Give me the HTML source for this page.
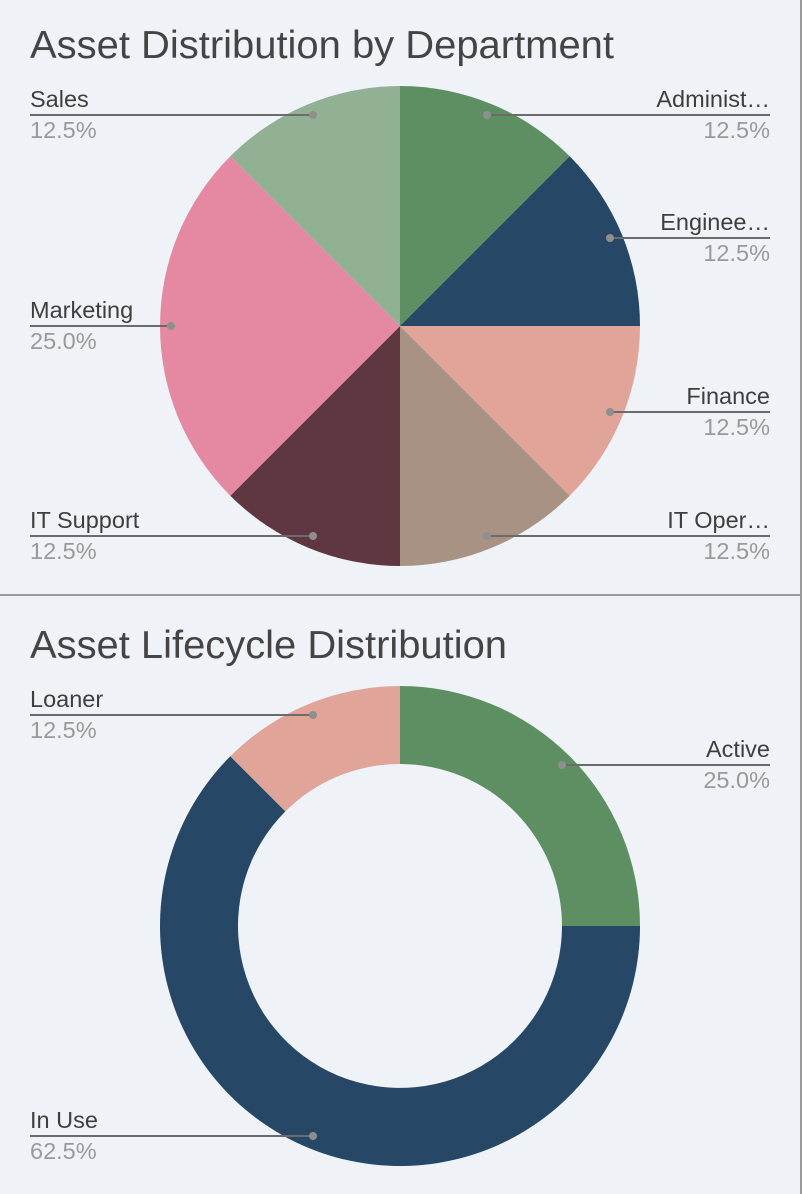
<!DOCTYPE html>
<html><head><meta charset="utf-8"><style>
html,body{margin:0;padding:0;background:#eff3f8;}
svg{display:block;}
text{font-family:"Liberation Sans",Arial,sans-serif;}
.t{font-size:39px;fill:#444;}
.l{font-size:23.5px;fill:#3b403c;}
.p{font-size:23.5px;fill:#999;}
.ln{stroke:#6b6b6b;stroke-width:2;fill:none;}
.d{fill:#8f8f8f;}
</style></head><body>
<svg width="802" height="1194" viewBox="0 0 802 1194" xmlns="http://www.w3.org/2000/svg">
<rect width="802" height="1194" fill="#eff3f8"/>
<rect x="800" y="0" width="2" height="1194" fill="#9a9a9a"/>
<rect x="0" y="594" width="802" height="2" fill="#9a9a9a"/>

<text class="t" x="30" y="58" textLength="584" lengthAdjust="spacingAndGlyphs">Asset Distribution by Department</text>
<g>
<path d="M400 326 L400 86 A240 240 0 0 1 569.7 156.3 Z" fill="#5e8f63"/>
<path d="M400 326 L569.7 156.3 A240 240 0 0 1 640 326 Z" fill="#264766"/>
<path d="M400 326 L640 326 A240 240 0 0 1 569.7 495.7 Z" fill="#e0a498"/>
<path d="M400 326 L569.7 495.7 A240 240 0 0 1 400 566 Z" fill="#a89283"/>
<path d="M400 326 L400 566 A240 240 0 0 1 230.3 495.7 Z" fill="#5e3740"/>
<path d="M400 326 L230.3 495.7 A240 240 0 0 1 230.3 156.3 Z" fill="#e589a2"/>
<path d="M400 326 L230.3 156.3 A240 240 0 0 1 400 86 Z" fill="#92b094"/>
</g>
<g>
<line class="ln" x1="487" y1="115" x2="770" y2="115"/><circle class="d" cx="487" cy="115" r="4"/>
<text class="l" x="770" y="107" text-anchor="end">Administ…</text><text class="p" x="770" y="138" text-anchor="end">12.5%</text>
<line class="ln" x1="610" y1="238" x2="770" y2="238"/><circle class="d" cx="610" cy="238" r="4"/>
<text class="l" x="770" y="230" text-anchor="end">Enginee…</text><text class="p" x="770" y="261" text-anchor="end">12.5%</text>
<line class="ln" x1="610" y1="412" x2="770" y2="412"/><circle class="d" cx="610" cy="412" r="4"/>
<text class="l" x="770" y="404" text-anchor="end">Finance</text><text class="p" x="770" y="435" text-anchor="end">12.5%</text>
<line class="ln" x1="487" y1="536" x2="770" y2="536"/><circle class="d" cx="487" cy="536" r="4"/>
<text class="l" x="770" y="528" text-anchor="end">IT Oper…</text><text class="p" x="770" y="559" text-anchor="end">12.5%</text>
<line class="ln" x1="30" y1="536" x2="313" y2="536"/><circle class="d" cx="313" cy="536" r="4"/>
<text class="l" x="30" y="528">IT Support</text><text class="p" x="30" y="559">12.5%</text>
<line class="ln" x1="30" y1="326" x2="171" y2="326"/><circle class="d" cx="171" cy="326" r="4"/>
<text class="l" x="30" y="318">Marketing</text><text class="p" x="30" y="349">25.0%</text>
<line class="ln" x1="30" y1="115" x2="313" y2="115"/><circle class="d" cx="313" cy="115" r="4"/>
<text class="l" x="30" y="107">Sales</text><text class="p" x="30" y="138">12.5%</text>
</g>

<text class="t" x="30" y="658" textLength="477" lengthAdjust="spacingAndGlyphs">Asset Lifecycle Distribution</text>
<g>
<path d="M400 686 A240 240 0 0 1 640 926 L562 926 A162 162 0 0 0 400 764 Z" fill="#5e8f63"/>
<path d="M640 926 A240 240 0 1 1 230.3 756.3 L285.4 811.4 A162 162 0 1 0 562 926 Z" fill="#264766"/>
<path d="M230.3 756.3 A240 240 0 0 1 400 686 L400 764 A162 162 0 0 0 285.4 811.4 Z" fill="#e0a498"/>
</g>
<g>
<line class="ln" x1="562" y1="765" x2="770" y2="765"/><circle class="d" cx="562" cy="765" r="4"/>
<text class="l" x="770" y="757" text-anchor="end">Active</text><text class="p" x="770" y="788" text-anchor="end">25.0%</text>
<line class="ln" x1="30" y1="715" x2="313" y2="715"/><circle class="d" cx="313" cy="715" r="4"/>
<text class="l" x="30" y="707">Loaner</text><text class="p" x="30" y="738">12.5%</text>
<line class="ln" x1="30" y1="1136" x2="313" y2="1136"/><circle class="d" cx="313" cy="1136" r="4"/>
<text class="l" x="30" y="1128">In Use</text><text class="p" x="30" y="1159">62.5%</text>
</g>
</svg>
</body></html>
